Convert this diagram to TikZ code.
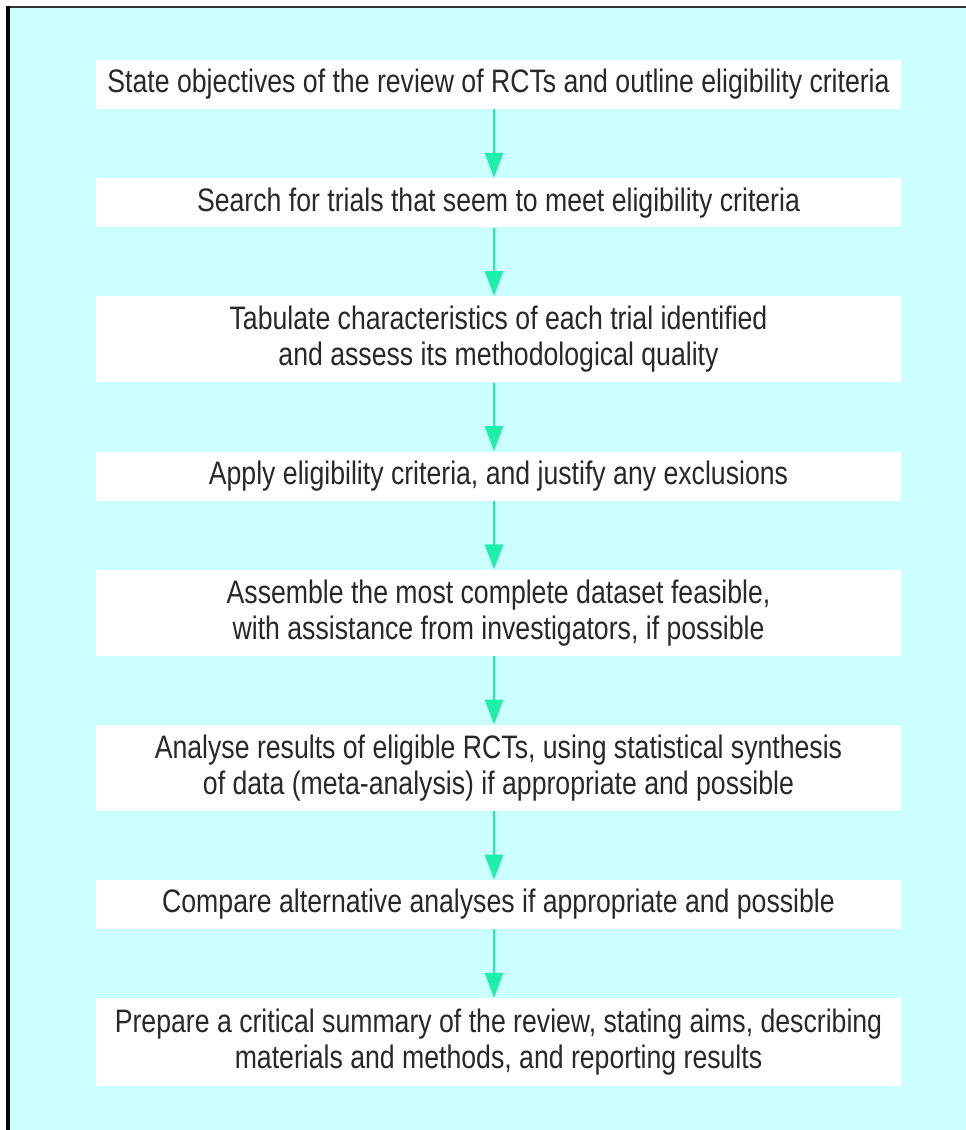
\documentclass[tikz,border=0pt]{standalone}
\usepackage{fontspec}
\setmainfont{Liberation Sans}[FakeStretch=0.82]
\usepackage{xcolor}
\usetikzlibrary{positioning,arrows.meta}
\definecolor{panelcyan}{RGB}{204,255,255}
\definecolor{flowgreen}{RGB}{30,240,170}
\definecolor{textgrey}{RGB}{40,40,40}

\begin{document}
\begin{tikzpicture}[
			x=0.02cm, y=-0.02cm,
			node distance=1.37cm,
			stage/.style={fill=white, text=textgrey, font=\fontsize{18.5}{20.5}\selectfont, align=center, minimum width=16.1cm, inner sep=0pt},
			oneline/.style={stage, minimum height=0.98cm},
			twoline/.style={stage, minimum height=1.72cm},
			flow/.style={draw=flowgreen, line width=1.7pt, -{Triangle[width=0.36cm,length=0.5cm]}}
			]
			
			% panel with its frame on top and left
			\useasboundingbox (0,0) rectangle (966,1130);
			\fill[panelcyan] (9,8) rectangle (966,1130);
			\draw[black!80, line width=1.5pt] (8,7) -- (966,7);
			\draw[black, line width=1.8pt] (8,6) -- (8,1130);
			
			% the steps of the review
			\node[oneline] (objectives) at (498.5,84.5) {State objectives of the review of RCTs and outline eligibility criteria};
			\node[oneline, below=of objectives] (search) {Search for trials that seem to meet eligibility criteria};
			\node[twoline, below=of search] (tabulate) {Tabulate characteristics of each trial identified\\and assess its methodological quality};
			\node[oneline, below=of tabulate] (apply) {Apply eligibility criteria, and justify any exclusions};
			\node[twoline, below=of apply] (assemble) {Assemble the most complete dataset feasible,\\with assistance from investigators, if possible};
			\node[twoline, below=of assemble] (analyse) {Analyse results of eligible RCTs, using statistical synthesis\\of data (meta-analysis) if appropriate and possible};
			\node[oneline, below=of analyse] (compare) {Compare alternative analyses if appropriate and possible};
			\node[twoline, minimum height=1.76cm, below=of compare] (summary) {Prepare a critical summary of the review, stating aims, describing\\materials and methods, and reporting results};
			
			\foreach \from/\to in {objectives/search, search/tabulate, tabulate/apply, apply/assemble, assemble/analyse, analyse/compare, compare/summary}
				\draw[flow] ([xshift=-0.09cm]\from.south) -- ([xshift=-0.09cm]\to.north);
		\end{tikzpicture}
\end{document}
